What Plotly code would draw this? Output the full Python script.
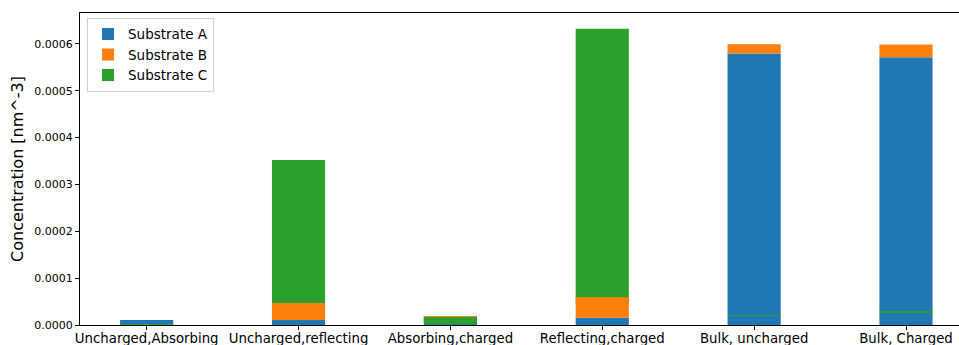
import plotly.graph_objects as go

# Concentrations per scenario (nm^-3)
categories = [
    "Uncharged,Absorbing",
    "Uncharged,reflecting",
    "Absorbing,charged",
    "Reflecting,charged",
    "Bulk, uncharged",
    "Bulk, Charged",
]
substrate_a = [1.05e-5, 1.05e-5, 1.75e-5, 1.55e-5, 5.795e-4, 5.715e-4]
substrate_b = [0.0, 3.65e-5, 1.6e-6, 4.35e-5, 1.96e-5, 2.75e-5]
substrate_c = [1.5e-6, 3.155e-4, 1.6e-5, 5.89e-4, 3e-7, 3e-7]

series_names = ["Substrate A", "Substrate B", "Substrate C"]
colors = ["#1f77b4", "#ff7f0e", "#2ca02c"]
y_ticks = [0, 1e-4, 2e-4, 3e-4, 4e-4, 5e-4, 6e-4]

x = list(range(len(categories)))
bar_w = 0.35

fig = go.Figure()
# A sits on zero, C is placed on top of B's height, B is placed on top of A
fig.add_trace(go.Bar(x=x, y=substrate_a, base=[0] * len(x), width=bar_w,
                     name=series_names[0], marker=dict(color=colors[0], line=dict(width=0)),
                     legendrank=1))
fig.add_trace(go.Bar(x=x, y=substrate_c, base=substrate_b, width=bar_w,
                     name=series_names[2], marker=dict(color=colors[2], line=dict(width=0)),
                     legendrank=3))
fig.add_trace(go.Bar(x=x, y=substrate_b, base=substrate_a, width=bar_w,
                     name=series_names[1], marker=dict(color=colors[1], line=dict(width=0)),
                     legendrank=2))

font_family = "DejaVu Sans"

fig.update_layout(
    width=959,
    height=345,
    margin=dict(l=80, r=0, t=13, b=20),
    barmode="overlay",
    plot_bgcolor="white",
    paper_bgcolor="white",
    font=dict(family=font_family, color="black"),
    showlegend=True,
    legend=dict(
        x=0.008, y=0.985, xanchor="left", yanchor="top",
        bgcolor="rgba(255,255,255,0.8)",
        bordercolor="#d0d0d0", borderwidth=1,
        font=dict(size=13.5, family=font_family),
        traceorder="normal",
        tracegroupgap=0,
    ),
    xaxis=dict(
        range=[-0.439, 5.349],
        tickmode="array",
        tickvals=x,
        ticktext=categories,
        tickfont=dict(size=13.3, family=font_family),
        ticks="outside", ticklen=4, tickcolor="black",
        ticklabelstandoff=-3,
        showline=True, linecolor="black", linewidth=1, mirror=True,
        showgrid=False, zeroline=False, automargin=False,
    ),
    yaxis=dict(
        range=[0, 0.000666],
        tickmode="array",
        tickvals=y_ticks,
        tickformat=".4f",
        tickfont=dict(size=11, family=font_family),
        ticks="outside", ticklen=4, tickcolor="black",
        showline=True, linecolor="black", linewidth=1,
        showgrid=False, zeroline=False, automargin=False,
        title=dict(text="Concentration [nm^-3]", font=dict(size=16, family=font_family),
                   standoff=6),
    ),
)

fig.write_html("out.html")
